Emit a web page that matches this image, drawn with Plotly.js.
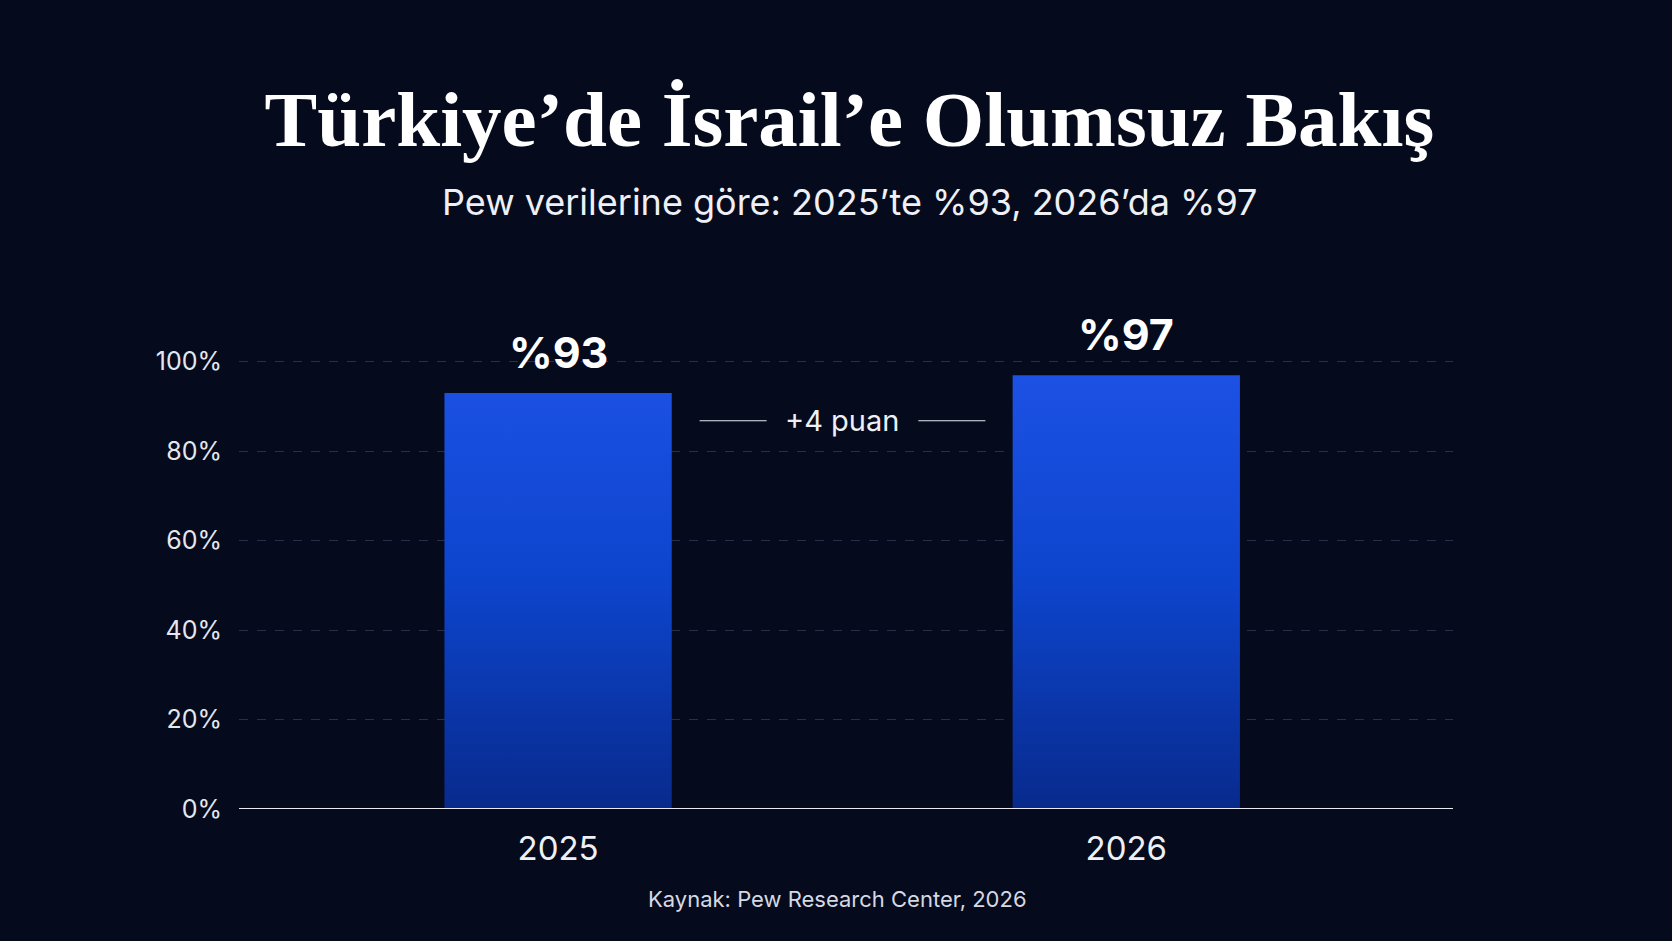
<!DOCTYPE html>
<html>
<head>
<meta charset="utf-8">
<script src="https://cdn.plot.ly/plotly-3.0.1.min.js"></script>
<style>
  html, body { margin: 0; padding: 0; background: #050a1d; }
  #chart { width: 1672px; height: 941px; }
</style>
</head>
<body>
<div id="chart"></div>
<script>
var years = ["2025", "2026"];
var values = [93, 97];
var yTicks = [0, 20, 40, 60, 80, 100];
var yTickText = ["0%", "20%", "40%", "60%", "80%", "100%"];

var BG = "#050a1d";
var SANS = "Inter, 'Noto Sans', sans-serif";
var barWidth = 0.4;

// each bar is a filled polygon so it can carry a vertical gradient
var traces = [];
var i, c;
for (i = 0; i < values.length; i++) {
    c = i;
    traces.push({
        type: "scatter",
        mode: "lines",
        x: [c - barWidth / 2, c - barWidth / 2, c + barWidth / 2, c + barWidth / 2, c - barWidth / 2],
        y: [0, values[i], values[i], 0, 0],
        fill: "toself",
        fillgradient: {
            type: "vertical",
            start: 0,
            stop: 100,
            colorscale: [[0, "#082a8c"], [0.5, "#0d44cc"], [1, "#1d52e6"]]
        },
        line: { width: 0 },
        hoverinfo: "skip",
        showlegend: false
    });
}

var annotations = [];
for (i = 0; i < values.length; i++) {
    annotations.push({
        x: i, y: values[i], xref: "x", yref: "y",
        text: "<b>%" + values[i] + "</b>",
        showarrow: false,
        yanchor: "bottom",
        yshift: 13,
        font: { family: SANS, size: 43, color: "#ffffff" }
    });
}

// change between the two years
annotations.push({
    x: 0.5, y: 86.8, xref: "x", yref: "y",
    text: "+" + (values[1] - values[0]) + " puan",
    showarrow: false,
    font: { family: SANS, size: 29, color: "#eef0f5" }
});

annotations.push({
    x: 0.503, y: 1.39, xref: "paper", yref: "paper",
    text: "Pew verilerine göre: 2025’te %93, 2026’da %97",
    showarrow: false,
    font: { family: SANS, size: 36, color: "#eef0f5" }
});

annotations.push({
    x: 0.493, y: -0.232, xref: "paper", yref: "paper",
    text: "Kaynak: Pew Research Center, 2026",
    showarrow: false,
    font: { family: SANS, size: 22, color: "#d6d9e2" }
});

var layout = {
    width: 1672,
    height: 941,
    paper_bgcolor: BG,
    plot_bgcolor: BG,
    margin: { l: 239, r: 219, t: 355, b: 132 },
    title: {
        text: "<b>Türkiye’de İsrail’e Olumsuz Bakış</b>",
        x: 0.508,
        xanchor: "center",
        y: 0.874,
        yanchor: "middle",
        yref: "container",
        font: { family: "'Liberation Serif', 'DejaVu Serif', serif", size: 79, color: "#ffffff" }
    },
    xaxis: {
        range: [-0.5616, 1.575],
        tickmode: "array",
        tickvals: [0, 1],
        ticktext: years,
        showgrid: false,
        zeroline: false,
        showline: false,
        ticks: "",
        ticklabelstandoff: 17,
        tickfont: { family: SANS, size: 33, color: "#eef0f5" },
        fixedrange: true
    },
    yaxis: {
        range: [0, 101.5],
        tickmode: "array",
        tickvals: yTicks,
        ticktext: yTickText,
        showgrid: true,
        gridcolor: "#27304a",
        griddash: "dash",
        gridwidth: 1,
        zeroline: false,
        showline: false,
        ticks: "",
        ticklabelstandoff: 16,
        tickfont: { family: SANS, size: 25, color: "#e4e7ee" },
        fixedrange: true
    },
    shapes: [
        { type: "line", xref: "paper", yref: "y", x0: 0, x1: 1, y0: 0, y1: 0,
          line: { color: "#e8eaf0", width: 2 }, layer: "above" },
        { type: "line", xref: "x", yref: "y", x0: 0.249, x1: 0.367, y0: 86.8, y1: 86.8,
          line: { color: "#e8eaf0", width: 1.2 } },
        { type: "line", xref: "x", yref: "y", x0: 0.634, x1: 0.752, y0: 86.8, y1: 86.8,
          line: { color: "#e8eaf0", width: 1.2 } }
    ],
    annotations: annotations,
    showlegend: false
};

Plotly.newPlot("chart", traces, layout, { displayModeBar: false, staticPlot: true });
</script>
</body>
</html>
